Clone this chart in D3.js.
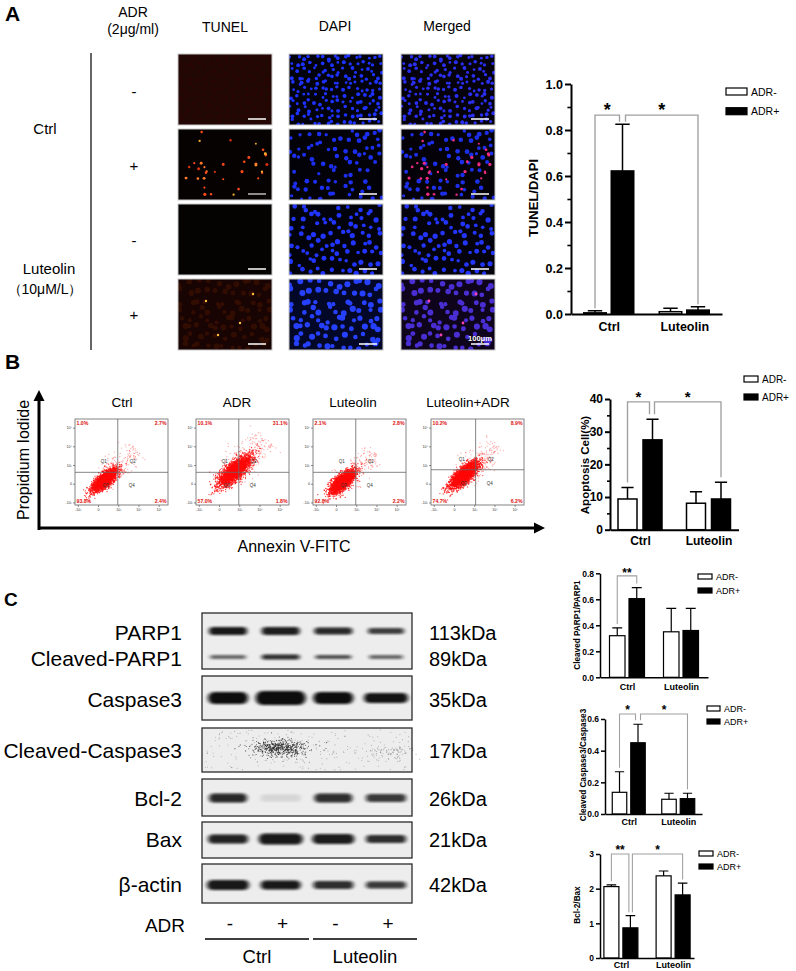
<!DOCTYPE html>
<html>
<head>
<meta charset="utf-8">
<script src="https://cdn.jsdelivr.net/npm/d3@7"></script>
<style>
  body { margin: 0; background: #fff; }
  svg text { font-family: "Liberation Sans", Arial, Helvetica, sans-serif; }
</style>
</head>
<body>
<script>
// ---------- values ----------
var groups = ["Ctrl", "Luteolin"];
var series = ["ADR-", "ADR+"];

// A: TUNEL/DAPI, [ADR-, ADR+] per group
var tunelMean = [[0.005, 0.622], [0.010, 0.017]];
var tunelSD = [[0.009, 0.203], [0.015, 0.015]];
// B: apoptosis cells (%)
var apopMean = [[9.4, 27.5], [8.1, 9.4]];
var apopSD = [[3.5, 6.3], [3.5, 5.1]];
// C: blot densitometry
var parpMean = [[0.32, 0.605], [0.35, 0.36]];
var parpSD = [[0.06, 0.085], [0.18, 0.17]];
var caspMean = [[0.137, 0.45], [0.093, 0.097]];
var caspSD = [[0.13, 0.117], [0.038, 0.034]];
var bclMean = [[2.06, 0.87], [2.37, 1.82]];
var bclSD = [[0.05, 0.35], [0.14, 0.34]];

// B: flow cytometry quadrants (%)
var flowTitles = ["Ctrl", "ADR", "Luteolin", "Luteolin+ADR"];
var flowQ1 = ["1.0%", "10.1%", "2.1%", "10.2%"];
var flowQ2 = ["2.7%", "31.1%", "2.8%", "8.9%"];
var flowQ3 = ["93.8%", "57.0%", "92.8%", "74.7%"];
var flowQ4 = ["2.4%", "1.8%", "2.2%", "6.2%"];
var gateX = [0.46, 0.46, 0.46, 0.48];
var gateY = [0.38, 0.38, 0.38, 0.41];
var cloudX = [0.32, 0.42, 0.32, 0.36];
var cloudY = [0.29, 0.40, 0.27, 0.35];
var cloudSpread = [1.0, 1.35, 1.05, 1.15];
var flowAxisLabels = ["-10³", "0", "10³", "10⁴", "10⁵"];

// C: western blot
var proteins = ["PARP1", "Cleaved-PARP1", "Caspase3", "Cleaved-Caspase3", "Bcl-2", "Bax", "β-actin"];
var kDa = ["113kDa", "89kDa", "35kDa", "17kDa", "26kDa", "21kDa", "42kDa"];
var adrSigns = ["-", "+", "-", "+"];
var bandDensity = [[0.95, 0.92, 0.88, 0.78], [0.6, 0.85, 0.7, 0.6], [1, 1, 1, 0.97], [0, 0, 0, 0],
                   [0.88, 0.1, 0.85, 0.8], [0.9, 0.95, 0.93, 0.85], [0.95, 0.95, 0.85, 0.8]];
var bandHeight = [[8, 8, 7, 6], [4, 5, 4, 4], [12, 14, 12, 10], [0, 0, 0, 0],
                  [9, 7, 9, 8], [9, 11, 10, 8], [10, 9, 8, 7]];
var bandWidth = [[38, 38, 38, 36], [36, 38, 36, 34], [40, 50, 40, 44], [0, 0, 0, 0],
                 [38, 40, 38, 40], [40, 44, 42, 40], [42, 40, 40, 40]];

// ---------- page ----------
var W = 796, H = 971;
var svg = d3.select("body").append("svg").attr("width", W).attr("height", H);
svg.append("rect").attr("width", W).attr("height", H).attr("fill", "#fff");
var defs = svg.append("defs");
defs.append("filter").attr("id", "soft").append("feGaussianBlur").attr("stdDeviation", 0.5);
defs.append("filter").attr("id", "band").attr("x", "-30%").attr("y", "-150%").attr("width", "160%").attr("height", "400%")
    .append("feGaussianBlur").attr("stdDeviation", "2 1.1");

// seeded generator, used only for image texture (cells, dots, speckle)
function rng(seed) {
    return function() {
        seed |= 0; seed = seed + 0x6D2B79F5 | 0;
        var t = Math.imul(seed ^ seed >>> 15, 1 | seed);
        t = t + Math.imul(t ^ t >>> 7, 61 | t) ^ t;
        return ((t ^ t >>> 14) >>> 0) / 4294967296;
    };
}
function gauss(r) { var u = r() || 1e-9, v = r(); return Math.sqrt(-2 * Math.log(u)) * Math.cos(2 * Math.PI * v); }

function label(x, y, txt, size, opts) {
    opts = opts || {};
    return svg.append("text").attr("x", x).attr("y", y).text(txt)
        .attr("font-size", size)
        .attr("font-weight", opts.bold ? "bold" : null)
        .attr("text-anchor", opts.anchor || "start")
        .attr("fill", opts.fill || "#000");
}

// panel letters
label(5, 21, "A", 21, {bold: true});
label(5, 369, "B", 21, {bold: true});
label(4, 606, "C", 19, {bold: true});

// ---------- A: microscopy ----------
label(133, 17, "ADR", 14, {anchor: "middle"});
label(133, 34, "(2μg/ml)", 14, {anchor: "middle"});
label(225, 32, "TUNEL", 14, {anchor: "middle"});
label(335, 31, "DAPI", 14, {anchor: "middle"});
label(447, 31, "Merged", 14, {anchor: "middle"});
label(45, 134, "Ctrl", 15, {anchor: "middle"});
label(49, 274, "Luteolin", 15, {anchor: "middle"});
label(45, 294, "（10μM/L）", 14, {anchor: "middle"});
["-", "+", "-", "+"].forEach(function(s, i) {
    label(134, [97, 171, 246, 320][i], s, 15, {anchor: "middle"});
});
svg.append("line").attr("x1", 91).attr("x2", 91).attr("y1", 53).attr("y2", 350).attr("stroke", "#000").attr("stroke-width", 1.2);

var colX = [178, 289, 401], rowY = [54, 129, 204, 279], IW = 94, IH = 71;
// texture settings per row: grid columns, grid rows, radius, kept fraction
var nucGrid = [[16, 11, 1.7, 1.0], [13, 9, 2.0, 0.75], [12, 8, 2.2, 0.95], [11, 8, 2.6, 1.0]];
var nuclei = nucGrid.map(function(p, ri) {
    var r = rng(ri + 3), out = [];
    for (var a = 0; a < p[0]; a++) for (var b = 0; b < p[1]; b++) {
        if (r() > p[3]) continue;
        out.push({x: (a + 0.5 + (r() - 0.5) * 0.85) / p[0] * IW, y: (b + 0.5 + (r() - 0.5) * 0.85) / p[1] * IH, r: p[2] * (0.8 + 0.4 * r())});
    }
    return out;
});
var rT = rng(41), tunelDots = [];
for (var k = 0; k < 34; k++) tunelDots.push({x: 3 + rT() * (IW - 6), y: 3 + rT() * (IH - 6), r: 0.9 + rT() * 0.7, c: ["#ff4a1a", "#ff7a2a", "#ffb030", "#d83010"][Math.floor(rT() * 4)]});
var faintDots = [{x: 28, y: 22}, {x: 62, y: 44}, {x: 40, y: 56}, {x: 75, y: 15}];

var tunelBg = ["#220805", "#070202", "#050202", "#180503"];
var dapiBg = ["#02020c", "#020208", "#02020c", "#040828"];
var dapiCol = ["#1e30ff", "#1c2ef0", "#2034ff", "#2840ff"];
var mergeBg = ["#05020c", "#040208", "#04020c", "#0e051c"];
var mergeCol = ["#2a2ef0", "#1e2ee8", "#2234f8", "#4a2ed4"];

function micImage(ci, ri) {
    var x0 = colX[ci], y0 = rowY[ri], id = "clip" + ci + ri;
    defs.append("clipPath").attr("id", id).append("rect").attr("x", x0).attr("y", y0).attr("width", IW).attr("height", IH);
    var g = svg.append("g").attr("clip-path", "url(#" + id + ")");
    var bg = ci === 0 ? tunelBg[ri] : ci === 1 ? dapiBg[ri] : mergeBg[ri];
    g.append("rect").attr("x", x0).attr("y", y0).attr("width", IW).attr("height", IH).attr("fill", bg);
    var c = g.append("g").attr("transform", "translate(" + x0 + "," + y0 + ")").attr("filter", "url(#soft)");
    if (ci === 0) {
        if (ri === 0 || ri === 3) {
            c.selectAll("circle.f").data(nuclei[ri]).enter().append("circle")
                .attr("cx", function(d) { return d.x; }).attr("cy", function(d) { return d.y; })
                .attr("r", function(d) { return d.r; })
                .attr("fill", ri === 0 ? "#2e0c06" : "#3a0e06").attr("opacity", ri === 0 ? 0.45 : 0.75);
        }
        if (ri === 1) {
            c.selectAll("circle.t").data(tunelDots).enter().append("circle")
                .attr("cx", function(d) { return d.x; }).attr("cy", function(d) { return d.y; })
                .attr("r", function(d) { return d.r; }).attr("fill", function(d) { return d.c; });
        }
        if (ri === 3) {
            c.selectAll("circle.y").data(faintDots).enter().append("circle")
                .attr("cx", function(d) { return d.x; }).attr("cy", function(d) { return d.y; })
                .attr("r", 1.2).attr("fill", "#ffc040");
        }
    } else {
        c.selectAll("circle.n").data(nuclei[ri]).enter().append("circle")
            .attr("cx", function(d) { return d.x; }).attr("cy", function(d) { return d.y; })
            .attr("r", function(d) { return d.r; })
            .attr("fill", ci === 1 ? dapiCol[ri] : mergeCol[ri]);
        if (ci === 2 && ri === 1) {
            c.selectAll("circle.t").data(tunelDots).enter().append("circle")
                .attr("cx", function(d) { return d.x; }).attr("cy", function(d) { return d.y; })
                .attr("r", function(d) { return d.r + 0.1; }).attr("fill", "#f02a80");
        }
        if (ci === 2 && ri === 3) {
            c.selectAll("circle.y").data(faintDots).enter().append("circle")
                .attr("cx", function(d) { return d.x; }).attr("cy", function(d) { return d.y; })
                .attr("r", 1.4).attr("fill", "#ff40b0");
        }
    }
    // scale bar
    var last = (ci === 2 && ri === 3);
    svg.append("line").attr("x1", x0 + IW - 24).attr("x2", x0 + IW - 6).attr("y1", y0 + IH - 6).attr("y2", y0 + IH - 6)
        .attr("stroke", (ci === 0 && ri === 1) ? "#bbb" : "#fff").attr("stroke-width", 1.5);
    if (last) label(x0 + IW - 15, y0 + IH - 9, "100μm", 7.5, {anchor: "middle", bold: true, fill: "#fff"});
    svg.append("rect").attr("x", x0).attr("y", y0).attr("width", IW).attr("height", IH)
        .attr("fill", "none").attr("stroke", "#c8c8c8").attr("stroke-width", 1);
}
for (var ci = 0; ci < 3; ci++) for (var ri = 0; ri < 4; ri++) micImage(ci, ri);

// ---------- bar charts ----------
function drawBars(c) {
    var g = svg.append("g");
    var x = d3.scalePoint().domain(groups).range([c.x0, c.x1]).padding(c.pad);
    var y = d3.scaleLinear().domain([0, c.max]).range([c.yb, c.yt]);
    var off = (c.barW + c.gap) / 2;
    var sub = d3.scalePoint().domain(series).range([-off, off]);
    var bars = [];
    groups.forEach(function(gr, i) {
        series.forEach(function(s, j) {
            bars.push({s: s, mean: c.mean[i][j], top: c.mean[i][j] + c.sd[i][j], cx: x(gr) + sub(s)});
        });
    });

    g.selectAll(".bar").data(bars).enter().append("rect")
        .attr("x", function(d) { return d.cx - c.barW / 2; })
        .attr("y", function(d) { return y(d.mean); })
        .attr("width", c.barW)
        .attr("height", function(d) { return y(0) - y(d.mean); })
        .attr("fill", function(d) { return d.s === "ADR+" ? "#000" : "#fff"; })
        .attr("stroke", "#000").attr("stroke-width", c.bw);
    // error bars (upper only)
    var cap = c.barW * 0.32;
    g.selectAll(".err").data(bars).enter().append("path")
        .attr("d", function(d) {
            return "M" + d.cx + "," + y(d.mean) + "V" + y(d.top) + "M" + (d.cx - cap) + "," + y(d.top) + "H" + (d.cx + cap);
        })
        .attr("stroke", "#000").attr("stroke-width", c.bw).attr("fill", "none");

    if (c.minor) {
        g.append("g").attr("transform", "translate(" + c.x0 + ",0)")
            .call(d3.axisLeft(y).tickValues(c.minor).tickSize(c.tick * 0.6).tickSizeOuter(0).tickFormat(""))
            .call(function(a) { a.select(".domain").remove(); a.selectAll("line").attr("stroke-width", c.aw * 0.8); });
    }
    var ya = g.append("g").attr("transform", "translate(" + c.x0 + ",0)")
        .call(d3.axisLeft(y).tickValues(c.ticks).tickFormat(d3.format(c.fmt)).tickSize(c.tick).tickSizeOuter(0).tickPadding(2));
    ya.selectAll("text").attr("font-size", c.fs).attr("font-weight", "bold").attr("fill", "#000");
    ya.selectAll("line,path").attr("stroke-width", c.aw);
    var xa = g.append("g").attr("transform", "translate(0," + c.yb + ")")
        .call(d3.axisBottom(x).tickSize(0).tickSizeOuter(0).tickPadding(c.xpad));
    xa.selectAll("text").attr("font-size", c.xfs).attr("font-weight", "bold").attr("fill", "#000");
    xa.select(".domain").attr("stroke-width", c.aw);

    // significance brackets
    c.sig.forEach(function(s) {
        var a = bars[s[0]], b = bars[s[1]];
        var x1 = a.cx + s[4], x2 = b.cx + s[5], yl = y(s[3]);
        g.append("path")
            .attr("d", "M" + x1 + "," + (y(a.top) - c.sgap) + "V" + yl + "H" + x2 + "V" + (y(b.top) - c.sgap))
            .attr("fill", "none").attr("stroke", "#a0a0a0").attr("stroke-width", c.bw * 0.9);
        g.append("text").attr("x", (x1 + x2) / 2).attr("y", yl + c.starDy).text(s[2])
            .attr("text-anchor", "middle").attr("font-size", c.starFs).attr("font-weight", "bold");
    });

    // legend
    series.forEach(function(s, j) {
        var ly = c.ly + j * c.ldy;
        g.append("rect").attr("x", c.lx).attr("y", ly).attr("width", c.lw).attr("height", c.lh)
            .attr("fill", s === "ADR+" ? "#000" : "#fff").attr("stroke", "#000").attr("stroke-width", 1.2);
        g.append("text").attr("x", c.lx + c.lw + 4).attr("y", ly + c.lh + 0.5).text(s).attr("font-size", c.lfs);
    });

    g.append("text").attr("transform", "translate(" + c.tx + "," + c.ty + ") rotate(-90)")
        .attr("text-anchor", "middle").attr("font-size", c.tfs).attr("font-weight", "bold").text(c.title);
}

drawBars({mean: tunelMean, sd: tunelSD, x0: 571, x1: 722, pad: 0.5, yb: 314, yt: 84, max: 1.0,
    ticks: [0, 0.2, 0.4, 0.6, 0.8, 1.0], minor: [0.1, 0.3, 0.5, 0.7, 0.9], fmt: ".1f", tick: 6, fs: 12.5, aw: 2,
    barW: 22.5, gap: 5, bw: 1.5, xfs: 12.5, xpad: 8,
    sig: [[0, 1, "*", 0.865, 0, -3], [1, 3, "*", 0.865, 3, 0]], sgap: 2.5, starFs: 18, starDy: 1,
    lx: 726, ly: 88, lw: 21, lh: 7, ldy: 19.7, lfs: 10.5,
    title: "TUNEL/DAPI", tx: 538, ty: 198, tfs: 13});

drawBars({mean: apopMean, sd: apopSD, x0: 610, x1: 738.5, pad: 0.438, yb: 529.7, yt: 399, max: 40,
    ticks: [0, 10, 20, 30, 40], minor: [5, 15, 25, 35], fmt: "d", tick: 5, fs: 12, aw: 2,
    barW: 19, gap: 6, bw: 1.5, xfs: 12, xpad: 7,
    sig: [[0, 1, "*", 39.1, 0, -3], [1, 3, "*", 39.1, 2, 0]], sgap: 5, starFs: 15, starDy: 0,
    lx: 744, ly: 376, lw: 14, lh: 6, ldy: 18, lfs: 10,
    title: "Apoptosis Cell(%)", tx: 589, ty: 465, tfs: 11.5});

drawBars({mean: parpMean, sd: parpSD, x0: 600, x1: 708, pad: 0.5, yb: 677.3, yt: 573.3, max: 0.8,
    ticks: [0, 0.2, 0.4, 0.6, 0.8], minor: null, fmt: ".1f", tick: 4, fs: 8.5, aw: 1.5,
    barW: 15.5, gap: 4, bw: 1.2, xfs: 9, xpad: 6.3,
    sig: [[0, 1, "**", 0.78, 0, 0]], sgap: 4, starFs: 12, starDy: 1,
    lx: 698, ly: 574, lw: 14, lh: 5, ldy: 14, lfs: 9,
    title: "Cleaved PARP1/PARP1", tx: 580, ty: 625, tfs: 8.2});

drawBars({mean: caspMean, sd: caspSD, x0: 605, x1: 702, pad: 0.48, yb: 814, yt: 719, max: 0.6,
    ticks: [0, 0.2, 0.4, 0.6], minor: null, fmt: ".1f", tick: 4, fs: 8.5, aw: 1.5,
    barW: 14.5, gap: 4, bw: 1.2, xfs: 9, xpad: 4.6,
    sig: [[0, 1, "*", 0.632, 0, -2.5], [1, 3, "*", 0.632, 2.5, 0]], sgap: 4, starFs: 12, starDy: 0.5,
    lx: 707, ly: 706, lw: 13, lh: 5, ldy: 13, lfs: 9,
    title: "Cleaved Caspase3/Caspase3", tx: 586, ty: 765, tfs: 8.2});

drawBars({mean: bclMean, sd: bclSD, x0: 600, x1: 694, pad: 0.4, yb: 958, yt: 854, max: 3,
    ticks: [0, 1, 2, 3], minor: null, fmt: "d", tick: 4, fs: 8.5, aw: 1.5,
    barW: 15, gap: 4, bw: 1.2, xfs: 9, xpad: 3.6,
    sig: [[0, 1, "**", 3.0, 0, -1.5], [1, 3, "*", 3.0, 2, 0]], sgap: 3.5, starFs: 12, starDy: 0,
    lx: 699, ly: 851, lw: 14, lh: 5, ldy: 13, lfs: 9,
    title: "Bcl-2/Bax", tx: 580, ty: 905, tfs: 8.2});

// ---------- B: flow cytometry ----------
var flowX = [75, 196, 313, 431], FW = 93, FT = 419, FB = 505;
var titleX = [122, 237, 353, 468];
svg.append("path").attr("d", "M39,530V398M39,528H536").attr("stroke", "#000").attr("stroke-width", 3).attr("fill", "none");
svg.append("path").attr("d", "M39,390L33.5,401H44.5Z").attr("fill", "#000");
svg.append("path").attr("d", "M545,528L534,522.5V533.5Z").attr("fill", "#000");
svg.append("text").attr("transform", "translate(29,460) rotate(-90)").attr("text-anchor", "middle")
    .attr("font-size", 16).text("Propidium Iodide");
label(294, 552, "Annexin V-FITC", 16, {anchor: "middle"});

flowTitles.forEach(function(t, i) {
    var bx = flowX[i];
    var fx = d3.scaleLinear().domain([0, 1]).range([bx, bx + FW]);
    var fy = d3.scaleLinear().domain([0, 1]).range([FB, FT]);
    label(titleX[i], 407, t, 13.5, {anchor: "middle"});
    var id = "fclip" + i;
    defs.append("clipPath").attr("id", id).append("rect").attr("x", bx).attr("y", FT).attr("width", FW).attr("height", FB - FT);
    var pg = svg.append("g").attr("clip-path", "url(#" + id + ")");
    // event cloud texture around the cloud centre
    var r = rng(100 + i), pts = [], s = cloudSpread[i];
    for (var k = 0; k < 2600; k++) {
        var t1 = gauss(r) * 0.085 * s, u1 = gauss(r) * 0.034 * s;
        pts.push([cloudX[i] + (t1 - u1) * 0.707, cloudY[i] + (t1 + u1) * 0.707, 0.8]);
    }
    for (k = 0; k < 170 * s; k++) {
        var t2 = r() * 0.55 - 0.05, u2 = gauss(r) * 0.07 * s;
        pts.push([cloudX[i] + (t2 - u2) * 0.707, cloudY[i] + (t2 + u2) * 0.707, 0.35]);
    }
    pg.selectAll("circle").data(pts).enter().append("circle")
        .attr("cx", function(d) { return fx(d[0]); }).attr("cy", function(d) { return fy(d[1]); })
        .attr("r", 0.65).attr("fill", "#ff0a0a").attr("opacity", function(d) { return d[2]; });
    svg.append("rect").attr("x", bx).attr("y", FT).attr("width", FW).attr("height", FB - FT)
        .attr("fill", "none").attr("stroke", "#777").attr("stroke-width", 0.9);
    svg.append("path").attr("d", "M" + fx(gateX[i]) + "," + FT + "V" + FB + "M" + bx + "," + fy(gateY[i]) + "H" + (bx + FW))
        .attr("stroke", "#666").attr("stroke-width", 0.8);
    var qx = fx(gateX[i]), qy = fy(gateY[i]);
    [["Q1", -14, -9], ["Q2", 15, -9], ["Q3", -12, 15], ["Q4", 14, 15]].forEach(function(q) {
        label(qx + q[1], qy + q[2], q[0], 4.5, {anchor: "middle", fill: "#333"});
    });
    label(bx + 1.5, FT + 5.5, flowQ1[i], 5.2, {bold: true, fill: "#e01010"});
    label(bx + FW - 1.5, FT + 5.5, flowQ2[i], 5.2, {bold: true, fill: "#e01010", anchor: "end"});
    label(bx + 1.5, FB - 1.8, flowQ3[i], 5.2, {bold: true, fill: "#e01010"});
    label(bx + FW - 1.5, FB - 1.8, flowQ4[i], 5.2, {bold: true, fill: "#e01010", anchor: "end"});
    // log axes
    var ax = d3.scalePoint().domain(flowAxisLabels).range([fx(0.03), fx(0.9)]);
    var ay = d3.scalePoint().domain(flowAxisLabels).range([fy(0.03), fy(0.9)]);
    svg.append("g").attr("transform", "translate(0," + FB + ")")
        .call(d3.axisBottom(ax).tickSize(2).tickPadding(1))
        .call(function(a) { a.select(".domain").remove(); a.selectAll("line").attr("stroke", "#444").attr("stroke-width", 0.6);
            a.selectAll("text").attr("font-size", 3.6).attr("fill", "#333"); });
    svg.append("g").attr("transform", "translate(" + bx + ",0)")
        .call(d3.axisLeft(ay).tickSize(2).tickPadding(1))
        .call(function(a) { a.select(".domain").remove(); a.selectAll("line").attr("stroke", "#444").attr("stroke-width", 0.6);
            a.selectAll("text").attr("font-size", 3.6).attr("fill", "#333"); });
});

// ---------- C: western blot ----------
var boxY = [[613, 669], [676, 720], [728, 772], [779, 816], [822, 858], [864, 903]];
var bandY = [631, 657, 698, 750, 798, 839, 885];
var labelY = [640, 666, 707, 758, 806, 847, 892];
var lane = d3.scalePoint().domain([0, 1, 2, 3]).range([228, 386]);
boxY.forEach(function(b) {
    svg.append("rect").attr("x", 202).attr("y", b[0]).attr("width", 210).attr("height", b[1] - b[0])
        .attr("fill", "#ededed").attr("stroke", "#2a2a2a").attr("stroke-width", 1.3);
});
proteins.forEach(function(p, i) {
    label(182, labelY[i], p, 21, {anchor: "end"});
    label(429, labelY[i], kDa[i], 20);
    bandDensity[i].forEach(function(d, k) {
        if (!d) return;
        var w = bandWidth[i][k], h = bandHeight[i][k];
        svg.append("rect").attr("x", lane(k) - w / 2).attr("y", bandY[i] - h / 2).attr("width", w).attr("height", h)
            .attr("rx", h / 2).attr("fill", "#0a0a0a").attr("opacity", d).attr("filter", "url(#band)");
    });
});
// cleaved-caspase3 speckle
(function() {
    var r = rng(77), pts = [];
    for (var k = 0; k < 240; k++) pts.push([204 + r() * 206, 730 + r() * 40, 0.3]);
    for (k = 0; k < 520; k++) pts.push([lane(1) + gauss(r) * 13, 748 + gauss(r) * 4.5, 0.75]);
    for (k = 0; k < 70; k++) pts.push([lane(3) + 6 + gauss(r) * 12, 752 + gauss(r) * 4, 0.35]);
    svg.append("g").selectAll("circle").data(pts).enter().append("circle")
        .attr("cx", function(d) { return d[0]; }).attr("cy", function(d) { return d[1]; })
        .attr("r", 0.55).attr("fill", "#222").attr("opacity", function(d) { return d[2]; });
})();
label(185, 932, "ADR", 19, {anchor: "end"});
adrSigns.forEach(function(s, k) { label(lane(k) + 2, 930, s, 19, {anchor: "middle"}); });
svg.append("path").attr("d", "M205,939H309M313,939H417").attr("stroke", "#000").attr("stroke-width", 1.3);
label(257, 963, "Ctrl", 18.5, {anchor: "middle"});
label(365, 963, "Luteolin", 18.5, {anchor: "middle"});
</script>
</body>
</html>
